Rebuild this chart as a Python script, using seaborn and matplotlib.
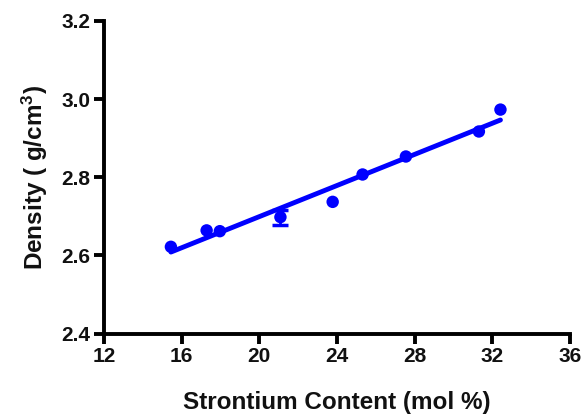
# density vs strontium content

import numpy as np
import pandas as pd
import seaborn as sns
import matplotlib.pyplot as plt

# ----------------------------
# data
# ----------------------------
sr_content = [15.45, 17.29, 17.97, 21.09, 23.78, 25.32, 27.55, 31.31, 32.42]
density = [2.622, 2.664, 2.662, 2.698, 2.737, 2.807, 2.853, 2.917, 2.973]
density_err = [0.0, 0.0, 0.0, 0.019, 0.0, 0.0, 0.0, 0.0, 0.0]

x_ticks = [12, 16, 20, 24, 28, 32, 36]
y_ticks = [2.4, 2.6, 2.8, 3.0, 3.2]

df = pd.DataFrame({"sr": sr_content, "density": density, "err": density_err})

# ----------------------------
# style
# ----------------------------
sns.set_style("ticks")
plt.rcParams['font.family'] = ['Liberation Sans', 'DejaVu Sans']
plt.rcParams['font.weight'] = 'bold'
plt.rcParams['mathtext.fontset'] = 'custom'
plt.rcParams['mathtext.rm'] = 'Liberation Sans:bold'
plt.rcParams['mathtext.default'] = 'rm'

fig = plt.figure(figsize=(5.87, 4.17), dpi=100)
ax = fig.add_axes([0.177, 0.200, 0.794, 0.750])

# fitted line
sns.regplot(data=df, x="sr", y="density", ax=ax, ci=None, scatter=False,
            truncate=True, color="blue", line_kws={"linewidth": 3.5})

# points
sns.scatterplot(data=df, x="sr", y="density", ax=ax, color="blue",
                s=80, edgecolor="none", zorder=3)

# error bars (only where visible)
err = df[df["err"] > 0]
ax.errorbar(err["sr"], err["density"], yerr=err["err"], fmt="none",
            ecolor="blue", elinewidth=2, capsize=6, capthick=2.5, zorder=2)

# ----------------------------
# axes
# ----------------------------
ax.set_xlim(12, 36)
ax.set_ylim(2.4, 3.2)
ax.set_xticks(x_ticks)
ax.set_yticks(y_ticks)
ax.set_yticklabels([f"{v:.1f}" for v in y_ticks])

sns.despine(ax=ax)
for side in ["left", "bottom"]:
    ax.spines[side].set_linewidth(2.8)
    ax.spines[side].set_color("black")

ax.tick_params(axis="both", width=2.8, length=7, labelsize=15, pad=3,
               color="black", labelcolor="#111111")
for lab in ax.get_xticklabels() + ax.get_yticklabels():
    lab.set_fontweight("bold")

ax.set_xlabel("Strontium Content (mol %)", fontsize=17.5, fontweight="bold",
              labelpad=18, color="#111111")
ax.set_ylabel("Density ( g/cm$^3$)", fontsize=17.5, fontweight="bold",
              labelpad=8, color="#111111")

fig.savefig("out.png", dpi=100)
